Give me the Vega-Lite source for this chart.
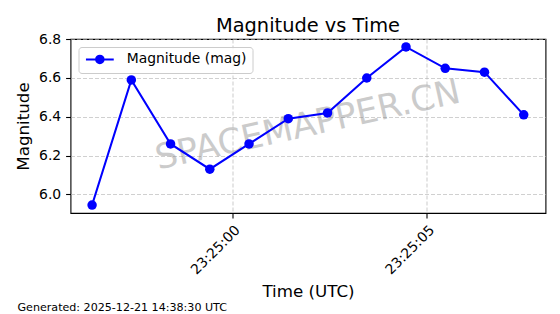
{
  "$schema": "https://vega.github.io/schema/vega-lite/v6.json",
  "background": "white",
  "padding": {"left": 14.5, "top": 15, "right": 0, "bottom": 0},
  "spacing": 0,
  "config": {
    "font": "DejaVu Sans",
    "view": {"stroke": "black", "strokeWidth": 1.1},
    "title": {"font": "DejaVu Sans", "fontWeight": "normal", "color": "black"},
    "axis": {
      "labelFont": "DejaVu Sans", "labelFontSize": 13.9, "labelColor": "black",
      "titleFont": "DejaVu Sans", "titleFontSize": 16.7, "titleFontWeight": "normal", "titleColor": "black",
      "tickColor": "black", "tickSize": 4.9, "tickWidth": 1.1, "domain": false,
      "gridColor": "#b0b0b0", "gridOpacity": 0.6, "gridDash": [4, 2], "gridWidth": 1.1,
      "labelPadding": 4.9
    }
  },
  "vconcat": [
    {
      "width": 475,
      "height": 174,
      "title": {"text": "Magnitude vs Time", "fontSize": 19.4, "anchor": "middle", "offset": -4.7},
      "data": {"values": [
        {"t": "2025-12-20T23:24:56.391Z", "mag": 5.945},
        {"t": "2025-12-20T23:24:57.400Z", "mag": 6.59},
        {"t": "2025-12-20T23:24:58.409Z", "mag": 6.26},
        {"t": "2025-12-20T23:24:59.418Z", "mag": 6.13},
        {"t": "2025-12-20T23:25:00.427Z", "mag": 6.26},
        {"t": "2025-12-20T23:25:01.436Z", "mag": 6.39},
        {"t": "2025-12-20T23:25:02.445Z", "mag": 6.42},
        {"t": "2025-12-20T23:25:03.454Z", "mag": 6.60},
        {"t": "2025-12-20T23:25:04.463Z", "mag": 6.76},
        {"t": "2025-12-20T23:25:05.472Z", "mag": 6.65},
        {"t": "2025-12-20T23:25:06.481Z", "mag": 6.63},
        {"t": "2025-12-20T23:25:07.490Z", "mag": 6.41}
      ]},
      "encoding": {
        "x": {
          "field": "t", "type": "temporal",
          "scale": {"type": "utc", "domain": [1766273095836, 1766273108050]},
          "axis": {
            "values": [1766273100000, 1766273105000],
            "format": "%H:%M:%S",
            "labelAngle": -45, "labelAlign": "right", "labelBaseline": "top",
            "title": "Time (UTC)", "titlePadding": 7
          }
        },
        "y": {
          "field": "mag", "type": "quantitative",
          "scale": {"domain": [5.904, 6.801], "nice": false, "zero": false},
          "axis": {"values": [6.0, 6.2, 6.4, 6.6, 6.8], "format": ".1f", "title": "Magnitude", "titlePadding": 6}
        }
      },
      "layer": [
        {
          "data": {"values": [{"label": "SPACEMAPPER.CN"}]},
          "mark": {"type": "text", "angle": 347.5, "fontSize": 34.7, "font": "DejaVu Sans", "color": "#808080", "opacity": 0.4, "align": "center", "baseline": "middle"},
          "encoding": {
            "x": {"value": {"expr": "concat_0_width / 2"}},
            "y": {"value": {"expr": "concat_0_height / 2"}},
            "text": {"field": "label", "type": "nominal"}
          }
        },
        {
          "mark": {"type": "line", "strokeWidth": 2.08},
          "encoding": {
            "color": {
              "datum": "Magnitude (mag)", "type": "nominal",
              "scale": {"range": ["blue"]},
              "legend": {
                "title": null, "orient": "top-left", "offset": 7.5, "padding": 5.5,
                "fillColor": "rgba(255,255,255,0.8)", "strokeColor": "#cccccc", "cornerRadius": 3,
                "labelFont": "DejaVu Sans", "labelFontSize": 13.9, "labelColor": "black",
                "symbolType": "M-1,0L4.56,0M1.03,0A0.75,0.75 0 1,1 2.53,0A0.75,0.75 0 1,1 1.03,0Z",
                "symbolSize": 100, "symbolStrokeWidth": 2.08,
                "symbolFillColor": "blue", "symbolStrokeColor": "blue", "symbolOpacity": 1,
                "labelOffset": 28.8
              }
            }
          }
        },
        {
          "mark": {"type": "point", "filled": true, "size": 90, "color": "blue", "opacity": 1}
        }
      ]
    },
    {
      "width": 1,
      "height": 1,
      "view": {"stroke": null},
      "title": {"text": "Generated: 2025-12-21 14:38:30 UTC", "fontSize": 11.1, "anchor": "start", "frame": "group", "baseline": "alphabetic", "offset": 0, "dx": -53},
      "data": {"values": [{}]},
      "mark": {"type": "point", "opacity": 0}
    }
  ]
}
